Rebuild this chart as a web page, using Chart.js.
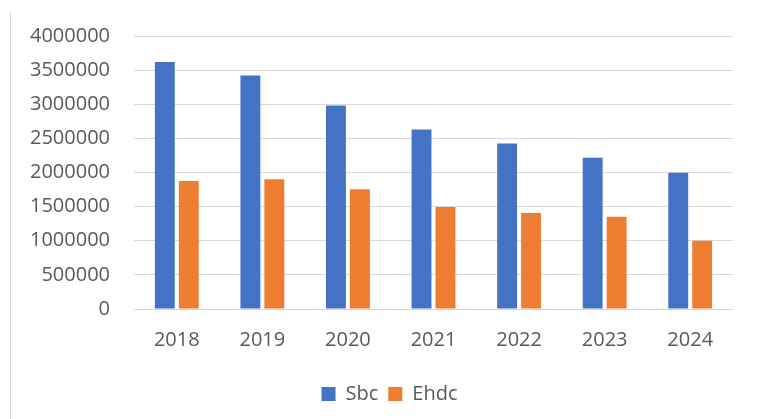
<!DOCTYPE html>
<html lang="en">
<head>
    <meta charset="UTF-8">
    <title>Sbc / Ehdc</title>
    <script src="https://cdn.jsdelivr.net/npm/chart.js"></script>
    <style>
        body { margin: 0; background: #fff; }
        #wrap { position: relative; width: 757px; height: 419px; }
        #edge { position: absolute; left: 10px; top: 12px; width: 1px; height: 407px; background: #d9d9d9; }
    </style>
</head>
<body>
    <div id="wrap">
        <div id="edge"></div>
        <canvas id="myChart" width="757" height="419"></canvas>
    </div>

    <script>
        // values
        const years = ['2018', '2019', '2020', '2021', '2022', '2023', '2024'];
        const sbc = [3620000, 3420000, 2980000, 2630000, 2425000, 2215000, 1995000];
        const ehdc = [1875000, 1900000, 1755000, 1495000, 1405000, 1350000, 1000000];

        const textColor = '#595959';
        const font = { family: 'Open Sans', size: 20 };

        const data = {
            labels: years,
            datasets: [
                { label: 'Sbc', data: sbc, backgroundColor: '#4472C4' },
                { label: 'Ehdc', data: ehdc, backgroundColor: '#ED7D31' }
            ]
        };

        // the legend sits a little right of the canvas centre in the original
        const legendShift = {
            id: 'legendShift',
            afterLayout(chart) {
                chart.legend.left += 23;
                chart.legend.right += 23;
            }
        };

        const config = {
            type: 'bar',
            data: data,
            plugins: [legendShift],
            options: {
                responsive: false,
                animation: false,
                layout: { padding: { top: 34, right: 24, bottom: 5, left: 0 } },
                datasets: { bar: { categoryPercentage: 0.56, barPercentage: 0.83 } },
                plugins: {
                    legend: {
                        position: 'bottom',
                        labels: { color: textColor, font: font, boxWidth: 14, boxHeight: 14, padding: 10 }
                    },
                    tooltip: { enabled: false }
                },
                scales: {
                    x: {
                        grid: { display: false },
                        border: { color: '#d9d9d9' },
                        ticks: { color: textColor, font: font, padding: 11 },
                        afterFit: scale => { scale.height = 65; }
                    },
                    y: {
                        min: 0,
                        max: 4000000,
                        ticks: {
                            stepSize: 500000,
                            color: textColor,
                            font: font,
                            padding: 24,
                            callback: value => String(value)
                        },
                        grid: { color: '#d9d9d9', drawTicks: false },
                        border: { display: false },
                        afterFit: scale => { scale.width = 134; }
                    }
                }
            }
        };

        new Chart(document.getElementById('myChart'), config);
    </script>
</body>
</html>
